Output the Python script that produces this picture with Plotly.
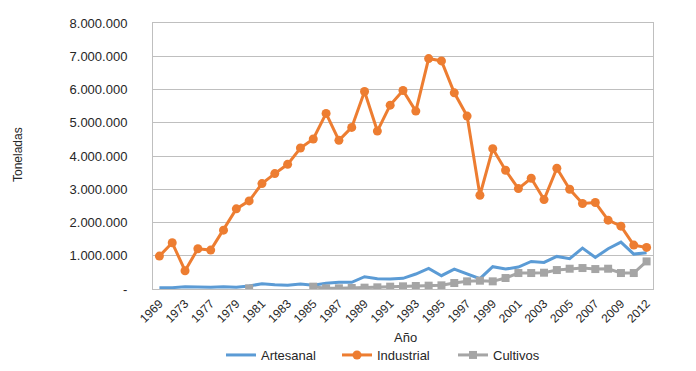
import plotly.graph_objects as go

years = ["1969", "1971", "1973", "1975", "1977", "1978", "1979", "1980", "1981", "1982",
         "1983", "1984", "1985", "1986", "1987", "1988", "1989", "1990", "1991", "1992",
         "1993", "1994", "1995", "1996", "1997", "1998", "1999", "2000", "2001", "2002",
         "2003", "2004", "2005", "2006", "2007", "2008", "2009", "2011", "2012"]

industrial = [990000, 1390000, 550000, 1210000, 1170000, 1770000, 2410000, 2650000, 3170000, 3470000,
              3750000, 4240000, 4510000, 5280000, 4470000, 4860000, 5940000, 4750000, 5530000, 5970000,
              5350000, 6930000, 6860000, 5900000, 5200000, 2820000, 4220000, 3570000, 3020000, 3330000,
              2690000, 3630000, 3000000, 2570000, 2600000, 2070000, 1890000, 1320000, 1250000]

artesanal = [40000, 40000, 70000, 60000, 50000, 70000, 50000, 90000, 160000, 130000,
             110000, 150000, 110000, 170000, 200000, 200000, 370000, 310000, 300000, 320000,
             450000, 620000, 400000, 600000, 450000, 310000, 670000, 600000, 660000, 830000,
             800000, 980000, 910000, 1230000, 950000, 1210000, 1410000, 1050000, 1090000]

cultivos = [None, None, None, None, None, None, None, 20000, None, None,
            None, None, 70000, 20000, 20000, 30000, 40000, 50000, 70000, 80000,
            90000, 100000, 110000, 180000, 230000, 250000, 230000, 330000, 480000, 480000,
            490000, 570000, 610000, 630000, 600000, 610000, 480000, 480000, 830000]

tick_vals = [0, 1000000, 2000000, 3000000, 4000000, 5000000, 6000000, 7000000, 8000000]
tick_text = ["-", "1.000.000", "2.000.000", "3.000.000", "4.000.000", "5.000.000",
             "6.000.000", "7.000.000", "8.000.000"]

x_labels = [y for i, y in enumerate(years) if i % 2 == 0]

FONT = "Liberation Sans, Arial, sans-serif"
OFF = 8  # default page body margin
W, H = 696 - OFF, 371 - OFF
L, R, T, B = 153 - OFF, 43, 23 - OFF, 82
pw, ph = W - L - R, H - T - B


def px(x):
    return (x - OFF - L) / pw


def py(y):
    return (H - B - (y - OFF)) / ph


fig = go.Figure()
fig.add_trace(go.Scatter(x=years, y=artesanal, name="Artesanal", mode="lines",
                         line=dict(color="#5B9BD5", width=3)))
fig.add_trace(go.Scatter(x=years, y=industrial, name="Industrial", mode="lines+markers",
                         line=dict(color="#ED7D31", width=3),
                         marker=dict(symbol="circle", size=9, color="#ED7D31")))
fig.add_trace(go.Scatter(x=years, y=cultivos, name="Cultivos", mode="lines+markers",
                         line=dict(color="#A5A5A5", width=3),
                         marker=dict(symbol="square", size=8, color="#A5A5A5")))

fig.update_layout(
    width=W, height=H,
    margin=dict(l=L, r=R, t=T, b=B, autoexpand=False),
    paper_bgcolor="white", plot_bgcolor="white",
    font=dict(family=FONT, size=13, color="#262626"),
    showlegend=True,
    legend=dict(orientation="h", xref="container", yref="container",
                x=(221 - OFF) / W, xanchor="left", y=(371 - 355) / H, yanchor="middle",
                font=dict(size=13, color="#262626"),
                entrywidth=71, entrywidthmode="pixels",
                bgcolor="rgba(0,0,0,0)"),
    xaxis=dict(type="category", categoryorder="array", categoryarray=years,
               range=[-0.5, len(years) - 0.5], automargin=False,
               tickmode="array", tickvals=x_labels, ticktext=x_labels,
               tickangle=-45, tickfont=dict(size=12, color="#262626"),
               ticklabelstandoff=2,
               showgrid=False, showline=True, linecolor="#BFBFBF", linewidth=1,
               mirror=True, ticks="", zeroline=False),
    yaxis=dict(range=[0, 8000000], tickmode="array", tickvals=tick_vals, ticktext=tick_text,
               tickfont=dict(size=13, color="#262626"), automargin=False,
               showgrid=True, gridcolor="#BFBFBF", gridwidth=1,
               showline=True, linecolor="#BFBFBF", linewidth=1, mirror=True,
               ticks="", ticklabelstandoff=22, zeroline=False),
    annotations=[
        dict(text="Año", x=px(405), y=py(337), xref="paper", yref="paper",
             xanchor="center", yanchor="middle",
             showarrow=False, font=dict(size=13, color="#262626")),
        dict(text="Toneladas", textangle=-90, x=px(18), y=py(155),
             xref="paper", yref="paper", xanchor="center", yanchor="middle",
             showarrow=False, font=dict(size=12, color="#262626")),
    ],
)

fig.write_html("out.html")
